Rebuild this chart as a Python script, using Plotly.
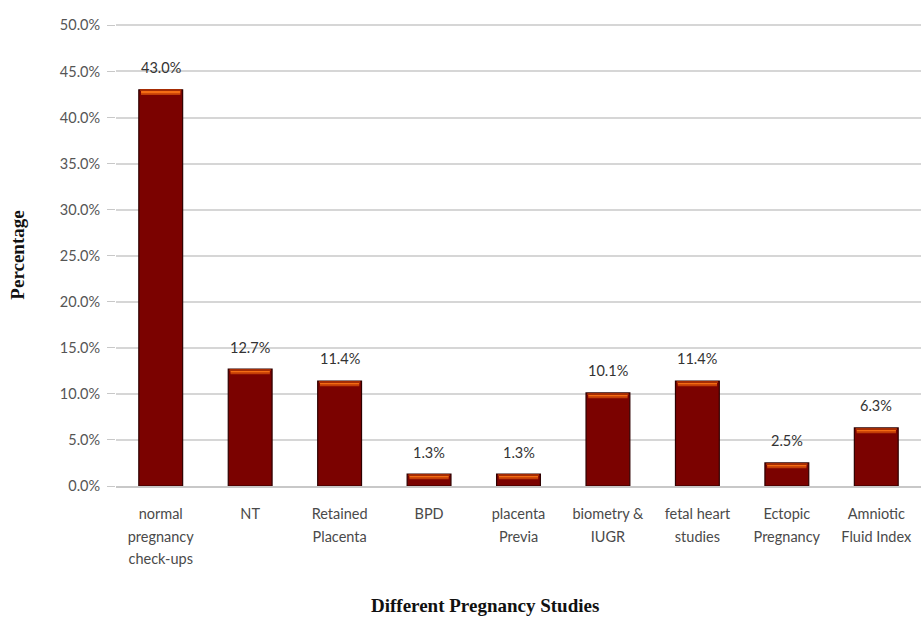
import plotly.graph_objects as go

categories = [
    "normal<br>pregnancy<br>check-ups",
    "NT",
    "Retained<br>Placenta",
    "BPD",
    "placenta<br>Previa",
    "biometry &amp;<br>IUGR",
    "fetal heart<br>studies",
    "Ectopic<br>Pregnancy",
    "Amniotic<br>Fluid Index",
]
percentages = [43.0, 12.7, 11.4, 1.3, 1.3, 10.1, 11.4, 2.5, 6.3]
y_ticks = [0, 5, 10, 15, 20, 25, 30, 35, 40, 45, 50]

BAR_W = 0.49
CAP = 0.6  # thickness of the highlighted top band, in axis units
LABEL_FONT = "Lato, sans-serif"

# tick labels drawn smaller than the axis font so the line pitch stays roomy
tick_text = [f'<span style="font-size:14.5px">{c.replace("<br>", "</span><br><span style=\"font-size:14.5px\">")}</span>'
             for c in categories]

fig = go.Figure()

# main dark-red columns
fig.add_trace(go.Bar(
    x=categories, y=percentages, width=BAR_W,
    marker=dict(color="#7b0200", line=dict(color="#2e0000", width=1.2)),
    hoverinfo="skip",
))
# glossy orange band along each column top
fig.add_trace(go.Bar(
    x=categories, y=[CAP * 0.45] * len(percentages),
    base=[v - CAP * 0.95 for v in percentages], width=BAR_W - 0.05,
    marker=dict(color="#c23d06", line=dict(width=0)), hoverinfo="skip",
))
fig.add_trace(go.Bar(
    x=categories, y=[CAP * 0.45] * len(percentages),
    base=[v - CAP * 0.6 for v in percentages], width=BAR_W - 0.05,
    marker=dict(color="#f46c14", line=dict(width=0)), hoverinfo="skip",
))
fig.add_trace(go.Bar(
    x=categories, y=[CAP * 0.2] * len(percentages),
    base=[v - CAP * 0.2 for v in percentages], width=BAR_W - 0.03,
    marker=dict(color="#a52c03", line=dict(width=0)), hoverinfo="skip",
))

# value labels above the columns
for c, v in zip(categories, percentages):
    fig.add_annotation(
        x=c, y=v, text=f"{v:.1f}%", showarrow=False, yanchor="middle",
        yshift=22, font=dict(family=LABEL_FONT, size=14.5, color="#333333"),
    )

# x-axis title
fig.add_annotation(
    x=0.458, y=-(605 - 486) / (486 - 24), xref="paper", yref="paper",
    yanchor="middle", text="<b>Different Pregnancy Studies</b>",
    showarrow=False, font=dict(family="Liberation Serif, serif", size=19, color="#111"),
)

fig.update_layout(
    width=921, height=619,
    margin=dict(l=116, r=0, t=24, b=133),
    barmode="overlay",
    showlegend=False,
    plot_bgcolor="white", paper_bgcolor="white",
)
fig.update_xaxes(
    tickvals=categories, ticktext=tick_text,
    tickfont=dict(family=LABEL_FONT, size=17.5, color="#4a4a4a"),
    showline=True, linecolor="#c8c8c8", linewidth=1.5,
    ticks="", ticklabelstandoff=10,
)
fig.update_yaxes(
    range=[0, 50.15], tickvals=y_ticks,
    ticktext=[f"{t:.1f}%" for t in y_ticks],
    tickfont=dict(family=LABEL_FONT, size=14.5, color="#555555"),
    showgrid=True, gridcolor="#d6d6d6", gridwidth=1.5,
    zeroline=False, showline=False,
    ticks="outside", ticklen=8, tickcolor="#c8c8c8",
    ticklabelstandoff=4,
    title=dict(text="<b>Percentage</b>",
               font=dict(family="Liberation Serif, serif", size=19, color="#111"),
               standoff=30),
)

fig.write_html("out.html")
